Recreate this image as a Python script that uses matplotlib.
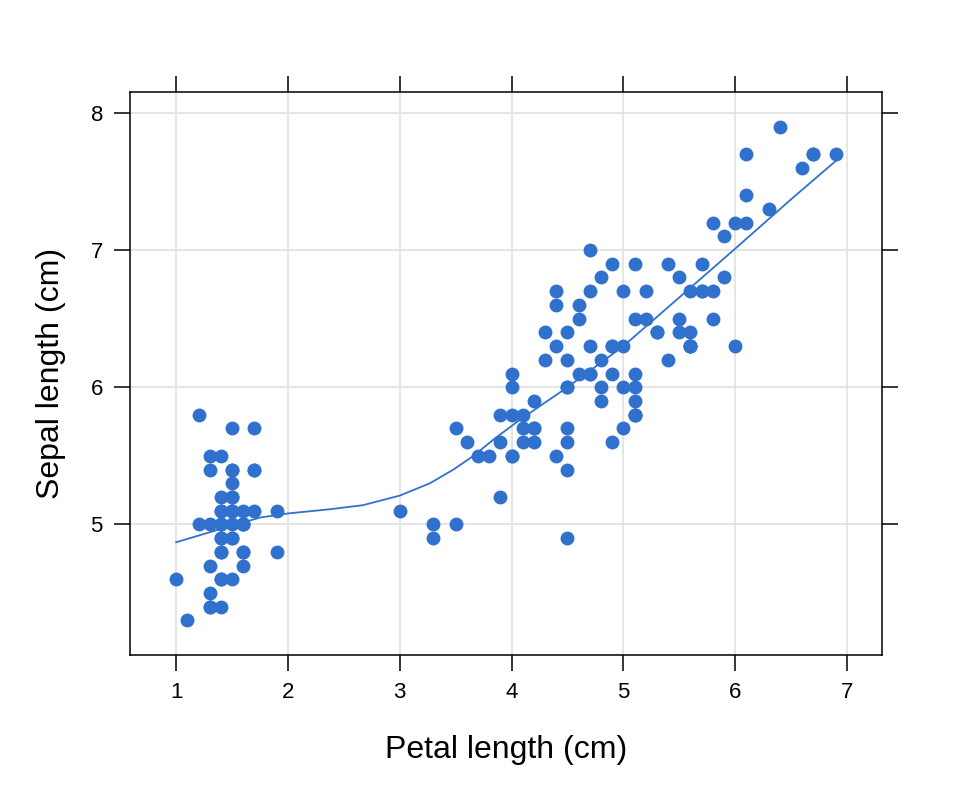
"""Iris: sepal length against petal length with a loess-style smoother."""
import numpy as np
import matplotlib
matplotlib.use("Agg")
import matplotlib.pyplot as plt

# iris measurements (cm), rows 1-150
petal_length = [
    1.4, 1.4, 1.3, 1.5, 1.4, 1.7, 1.4, 1.5, 1.4, 1.5, 1.5, 1.6, 1.4, 1.1, 1.2, 1.5, 1.3, 1.4, 1.7, 1.5,
    1.7, 1.5, 1.0, 1.7, 1.9, 1.6, 1.6, 1.5, 1.4, 1.6, 1.6, 1.5, 1.5, 1.4, 1.5, 1.2, 1.3, 1.4, 1.3, 1.5,
    1.3, 1.3, 1.3, 1.6, 1.9, 1.4, 1.6, 1.4, 1.5, 1.4,
    4.7, 4.5, 4.9, 4.0, 4.6, 4.5, 4.7, 3.3, 4.6, 3.9, 3.5, 4.2, 4.0, 4.7, 3.6, 4.4, 4.5, 4.1, 4.5, 3.9,
    4.8, 4.0, 4.9, 4.7, 4.3, 4.4, 4.8, 5.0, 4.5, 3.5, 3.8, 3.7, 3.9, 5.1, 4.5, 4.5, 4.7, 4.4, 4.1, 4.0,
    4.4, 4.6, 4.0, 3.3, 4.2, 4.2, 4.2, 4.3, 3.0, 4.1,
    6.0, 5.1, 5.9, 5.6, 5.8, 6.6, 4.5, 6.3, 5.8, 6.1, 5.1, 5.3, 5.5, 5.0, 5.1, 5.3, 5.5, 6.7, 6.9, 5.0,
    5.7, 4.9, 6.7, 4.9, 5.7, 6.0, 4.8, 4.9, 5.6, 5.8, 6.1, 6.4, 5.6, 5.1, 5.6, 6.1, 5.6, 5.5, 4.8, 5.4,
    5.6, 5.1, 5.1, 5.9, 5.7, 5.2, 5.0, 5.2, 5.4, 5.1,
]
sepal_length = [
    5.1, 4.9, 4.7, 4.6, 5.0, 5.4, 4.6, 5.0, 4.4, 4.9, 5.4, 4.8, 4.8, 4.3, 5.8, 5.7, 5.4, 5.1, 5.7, 5.1,
    5.4, 5.1, 4.6, 5.1, 4.8, 5.0, 5.0, 5.2, 5.2, 4.7, 4.8, 5.4, 5.2, 5.5, 4.9, 5.0, 5.5, 4.9, 4.4, 5.1,
    5.0, 4.5, 4.4, 5.0, 5.1, 4.8, 5.1, 4.6, 5.3, 5.0,
    7.0, 6.4, 6.9, 5.5, 6.5, 5.7, 6.3, 4.9, 6.6, 5.2, 5.0, 5.9, 6.0, 6.1, 5.6, 6.7, 5.6, 5.8, 6.2, 5.6,
    5.9, 6.1, 6.3, 6.1, 6.4, 6.6, 6.8, 6.7, 6.0, 5.7, 5.5, 5.5, 5.8, 6.0, 5.4, 6.0, 6.7, 6.3, 5.6, 5.5,
    5.5, 6.1, 5.8, 5.0, 5.6, 5.7, 5.7, 6.2, 5.1, 5.7,
    6.3, 5.8, 7.1, 6.3, 6.5, 7.6, 4.9, 7.3, 6.7, 7.2, 6.5, 6.4, 6.8, 5.7, 5.8, 6.4, 6.5, 7.7, 7.7, 6.0,
    6.9, 5.6, 7.7, 6.3, 6.7, 7.2, 6.2, 6.1, 6.4, 7.2, 7.4, 7.9, 6.3, 6.1, 6.3, 7.7, 6.3, 6.4, 6.0, 6.9,
    6.7, 6.9, 5.8, 6.8, 6.7, 6.7, 6.3, 6.5, 6.2, 5.9,
]

# smoother
smooth_x = [1.0, 1.33, 1.75, 2.0, 2.37, 2.67, 3.0, 3.27, 3.48, 3.66, 3.84, 4.07,
            4.5, 5.0, 5.55, 6.0, 6.5, 6.9]
smooth_y = [4.87, 4.95, 5.05, 5.08, 5.11, 5.14, 5.21, 5.30, 5.40, 5.50, 5.62, 5.76,
            6.0, 6.30, 6.69, 7.01, 7.37, 7.65]

x_ticks = [1, 2, 3, 4, 5, 6, 7]
y_ticks = [5, 6, 7, 8]

COLOR = "#3071cd"

plt.rcParams["font.family"] = ["Liberation Sans", "DejaVu Sans"]

fig = plt.figure(figsize=(9.6, 8.06), dpi=100)
ax = fig.add_axes([130 / 960, 1 - 655 / 806, (882 - 130) / 960, (655 - 92) / 806])

ax.scatter(petal_length, sepal_length, s=100, color=COLOR, linewidths=0, zorder=3)
ax.plot(smooth_x, smooth_y, color=COLOR, linewidth=1.3, zorder=4)

# lattice-style 7% padding around the data range
pad_x = 0.07 * (max(petal_length) - min(petal_length))
pad_y = 0.07 * (max(sepal_length) - min(sepal_length))
ax.set_xlim(min(petal_length) - pad_x, max(petal_length) + pad_x)
ax.set_ylim(min(sepal_length) - pad_y, max(sepal_length) + pad_y)

ax.set_xticks(x_ticks)
ax.set_yticks(y_ticks)
ax.grid(True, color="#e0e0e0", linewidth=1.2, zorder=0)
ax.set_axisbelow(True)
ax.tick_params(direction="out", length=11.5, width=1.1, labelsize=16, pad=8,
               top=True, right=True, labeltop=False, labelright=False)
for spine in ax.spines.values():
    spine.set_linewidth(1.1)

ax.set_xlabel("Petal length (cm)", fontsize=23, labelpad=23)
ax.set_ylabel("Sepal length (cm)", fontsize=23, labelpad=18)

fig.savefig("out.png", dpi=100)
